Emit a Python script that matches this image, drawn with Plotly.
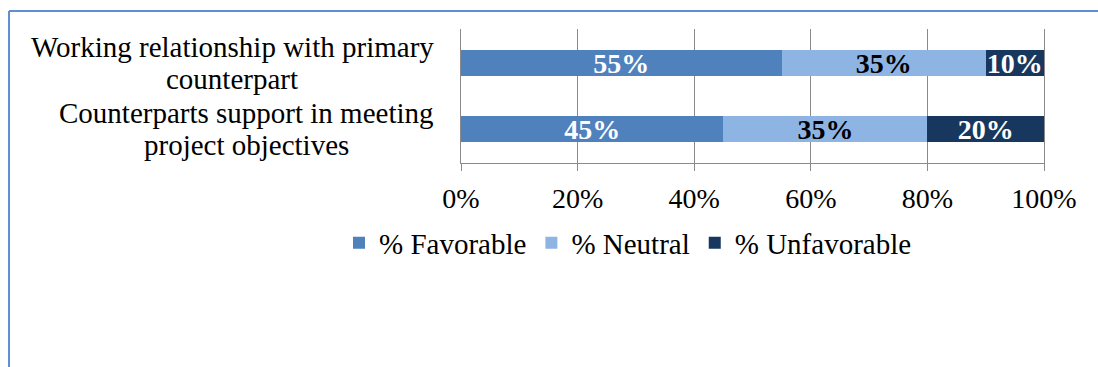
import plotly.graph_objects as go

categories = ["Working relationship with primary counterpart",
              "Counterparts support in meeting project objectives"]
label_line1 = ["Working relationship with primary", "Counterparts support in meeting"]
label_line2 = ["counterpart", "project objectives"]
series_names = ["% Favorable", "% Neutral", "% Unfavorable"]
favorable = [0.55, 0.45]
neutral = [0.35, 0.35]
unfavorable = [0.10, 0.20]
tick_values = [0, 0.2, 0.4, 0.6, 0.8, 1.0]
tick_labels = ["0%", "20%", "40%", "60%", "80%", "100%"]

colors = ["#4f81bd", "#8eb4e3", "#17375e"]
text_colors = ["white", "black", "white"]
FONT = "Liberation Serif"

W, H = 1098, 367
L, R, T, B = 461, 54, 29, 204
pw, ph = W - L - R, H - T - B

def px_x(x):
    return (x - L) / pw

def px_y(y):
    return (H - B - y) / ph

fig = go.Figure()
for name, vals, c, tc in zip(series_names, [favorable, neutral, unfavorable], colors, text_colors):
    fig.add_trace(go.Bar(
        y=categories, x=vals, name=name, orientation="h",
        marker=dict(color=c, line=dict(width=0)),
        texttemplate="%{x:.0%}", textposition="inside", insidetextanchor="middle",
        constraintext="none", textangle=0,
        textfont=dict(family=FONT, size=28, color=tc, weight="bold"),
        hoverinfo="skip",
    ))

label_centers_px = [232, 246]
annotations = []
for cat, l1, l2, cx in zip(categories, label_line1, label_line2, label_centers_px):
    for txt, dy in ((l1, 16), (l2, -16)):
        annotations.append(dict(
            xref="paper", yref="y", x=px_x(cx), y=cat, text=txt, showarrow=False,
            xanchor="center", yanchor="middle", yshift=dy, align="center",
            font=dict(family=FONT, size=29, color="black"),
        ))

border = "#5f8fd2"
shapes = [
    dict(type="line", xref="paper", yref="paper", x0=px_x(9), x1=px_x(1098),
         y0=px_y(11), y1=px_y(11), line=dict(color=border, width=2)),
    dict(type="line", xref="paper", yref="paper", x0=px_x(9), x1=px_x(9),
         y0=px_y(11), y1=px_y(367), line=dict(color=border, width=2)),
]

fig.update_layout(
    width=W, height=H, barmode="stack", bargap=0.6,
    margin=dict(l=L, r=R, t=T, b=B, pad=0),
    paper_bgcolor="white", plot_bgcolor="white",
    font=dict(family=FONT, size=28, color="black"),
    showlegend=True,
    legend=dict(orientation="h", x=px_x(339), xanchor="left", y=px_y(243), yanchor="middle",
                font=dict(family=FONT, size=29, color="black"), traceorder="normal",
                itemwidth=30, bgcolor="rgba(0,0,0,0)"),
    xaxis=dict(range=[0, 1], tickvals=tick_values, ticktext=tick_labels,
               showgrid=True, gridcolor="#8a8a8a", gridwidth=1,
               showline=True, linecolor="#8a8a8a", linewidth=1,
               ticks="outside", ticklen=7, tickcolor="#8a8a8a", tickwidth=1,
               ticklabelstandoff=3,
               zeroline=False, tickfont=dict(family=FONT, size=28, color="black"),
               fixedrange=True),
    yaxis=dict(autorange="reversed", showticklabels=False, showgrid=False,
               showline=True, linecolor="#8a8a8a", linewidth=1, mirror=True,
               ticks="", zeroline=False, fixedrange=True),
    annotations=annotations, shapes=shapes,
)

fig.write_html("out.html")
